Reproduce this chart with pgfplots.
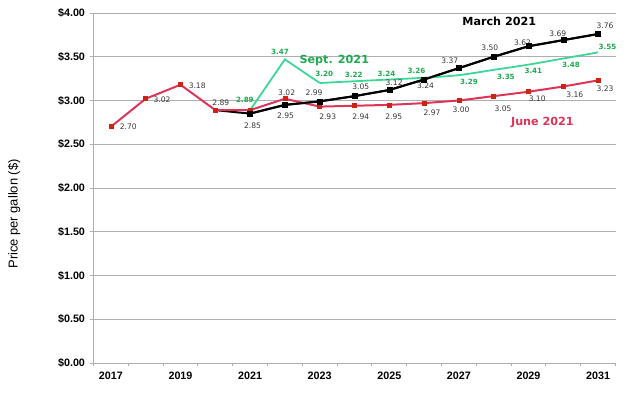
\documentclass[border=0pt]{standalone}
\usepackage{pgfplots}
\pgfplotsset{compat=1.18}
\usepackage{fontspec}
\setmainfont{Liberation Sans}
\newfontfamily\dv{DejaVu Sans}
\definecolor{junered}{RGB}{222,52,88}
\definecolor{junemark}{RGB}{205,35,20}
\definecolor{septgreen}{RGB}{60,215,150}
\definecolor{septtext}{RGB}{30,170,80}
\definecolor{gridgray}{RGB}{175,175,175}
\definecolor{lblgray}{RGB}{55,55,55}
\tikzset{
  lbl/.style={font=\dv\fontsize{7.6}{8}\selectfont, text=lblgray, inner sep=0pt},
  glbl/.style={font=\dv\bfseries\fontsize{7.2}{8}\selectfont, text=septtext, inner sep=0pt},
}
\begin{document}
\begin{tikzpicture}
\begin{axis}[
  scale only axis,
  width=522bp, height=350bp,
  xmin=2016.5, xmax=2031.5,
  ymin=0, ymax=4,
  axis x line*=bottom, axis y line*=left,
  axis line style={gridgray, line width=0.9pt},
  xtick={2017,2019,2021,2023,2025,2027,2029,2031},
  xticklabels={2017,2019,2021,2023,2025,2027,2029,2031},
  major x tick style={draw=none},
  minor xtick={2016.5,2017.5,...,2031.5},
  minor x tick style={gridgray, line width=0.8pt},
  minor tick length=3.5bp,
  ytick={0,0.5,...,4},
  yticklabels={\$0.00,\$0.50,\$1.00,\$1.50,\$2.00,\$2.50,\$3.00,\$3.50,\$4.00},
  major y tick style={gridgray, line width=0.8pt},
  major tick length=4bp,
  tick align=outside,
  ymajorgrids,
  major grid style={gridgray, line width=0.9pt},
  tick label style={font=\bfseries\fontsize{10.8}{12}\selectfont},
  xticklabel style={yshift=-1bp},
  yticklabel style={xshift=-1bp},
  ylabel={Price per gallon (\$)},
  ylabel style={at={(axis description cs:-0.152,0.426)}, anchor=center, font=\fontsize{13}{15}\selectfont},
  clip=false,
]
% March 2021 line (first segment under June markers)
\addplot[black, line width=2pt, mark=square*, mark size=2.5bp, mark indices={2,...,12}, mark options={fill=black, line width=0.5pt}] coordinates {
(2020,2.89) (2021,2.85) (2022,2.95) (2023,2.99) (2024,3.05) (2025,3.12) (2026,3.24) (2027,3.37) (2028,3.50) (2029,3.62) (2030,3.69) (2031,3.76)};
% June 2021
\addplot[junered, line width=2pt, mark=square*, mark size=2bp, mark options={fill=junemark, draw=junemark, line width=0.5pt}] coordinates {
(2017,2.70) (2018,3.02) (2019,3.18) (2020,2.89) (2021,2.89) (2022,3.02) (2023,2.93) (2024,2.94) (2025,2.95) (2026,2.97) (2027,3.00) (2028,3.05) (2029,3.10) (2030,3.16) (2031,3.23)};
% Sept 2021
\addplot[septgreen, line width=1.8pt] coordinates {(2021,2.89) (2022,3.47) (2023,3.20)};
\addplot[septgreen, line width=1.8pt, smooth] coordinates {
(2023,3.20) (2024,3.22) (2025,3.24) (2026,3.26) (2027,3.29) (2028,3.35) (2029,3.41) (2030,3.48) (2031,3.55)};
% March 2021 again on top from 2021 onward
\addplot[black, line width=2pt, mark=square*, mark size=2.5bp, mark options={fill=black, line width=0.5pt}] coordinates {
(2021,2.85) (2022,2.95) (2023,2.99) (2024,3.05) (2025,3.12) (2026,3.24) (2027,3.37) (2028,3.50) (2029,3.62) (2030,3.69) (2031,3.76)};
% June labels
\node[lbl] at (axis cs:2017.50,2.70) {2.70};
\node[lbl] at (axis cs:2018.47,3.01) {3.02};
\node[lbl] at (axis cs:2019.48,3.17) {3.18};
\node[lbl] at (axis cs:2020.16,2.975) {2.89};
\node[lbl] at (axis cs:2022.05,3.09) {3.02};
\node[lbl] at (axis cs:2023.23,2.82) {2.93};
\node[lbl] at (axis cs:2024.18,2.82) {2.94};
\node[lbl] at (axis cs:2025.13,2.82) {2.95};
\node[lbl] at (axis cs:2026.23,2.86) {2.97};
\node[lbl] at (axis cs:2027.06,2.90) {3.00};
\node[lbl] at (axis cs:2028.27,2.91) {3.05};
\node[lbl] at (axis cs:2029.25,3.02) {3.10};
\node[lbl] at (axis cs:2030.33,3.07) {3.16};
\node[lbl] at (axis cs:2031.20,3.13) {3.23};
% March labels
\node[lbl] at (axis cs:2021.07,2.71) {2.85};
\node[lbl] at (axis cs:2022.02,2.83) {2.95};
\node[lbl] at (axis cs:2022.84,3.09) {2.99};
\node[lbl] at (axis cs:2024.18,3.16) {3.05};
\node[lbl] at (axis cs:2025.14,3.20) {3.12};
\node[lbl] at (axis cs:2026.04,3.17) {3.24};
\node[lbl] at (axis cs:2026.74,3.46) {3.37};
\node[lbl] at (axis cs:2027.89,3.60) {3.50};
\node[lbl] at (axis cs:2028.83,3.66) {3.62};
\node[lbl] at (axis cs:2029.84,3.76) {3.69};
\node[lbl] at (axis cs:2031.20,3.855) {3.76};
% Sept labels
\node[glbl] at (axis cs:2020.85,3.006) {2.89};
\node[glbl] at (axis cs:2021.86,3.56) {3.47};
\node[glbl] at (axis cs:2023.13,3.30) {3.20};
\node[glbl] at (axis cs:2023.98,3.29) {3.22};
\node[glbl] at (axis cs:2024.92,3.30) {3.24};
\node[glbl] at (axis cs:2025.78,3.34) {3.26};
\node[glbl] at (axis cs:2027.29,3.21) {3.29};
\node[glbl] at (axis cs:2028.35,3.27) {3.35};
\node[glbl] at (axis cs:2029.14,3.34) {3.41};
\node[glbl] at (axis cs:2030.22,3.41) {3.48};
\node[glbl] at (axis cs:2031.27,3.61) {3.55};
% Series names
\node[font=\dv\bfseries\fontsize{11.2}{12}\selectfont, inner sep=0pt] at (axis cs:2028.16,3.91) {March 2021};
\node[font=\dv\bfseries\fontsize{11.2}{12}\selectfont, text=septtext, inner sep=0pt] at (axis cs:2023.42,3.46) {Sept. 2021};
\node[font=\dv\bfseries\fontsize{11.2}{12}\selectfont, text=junered, inner sep=0pt] at (axis cs:2029.40,2.75) {June 2021};
\end{axis}
\path (current axis.south west) ++(-93.5bp,-32bp) rectangle ++(641bp,395bp);
\end{tikzpicture}
\end{document}
